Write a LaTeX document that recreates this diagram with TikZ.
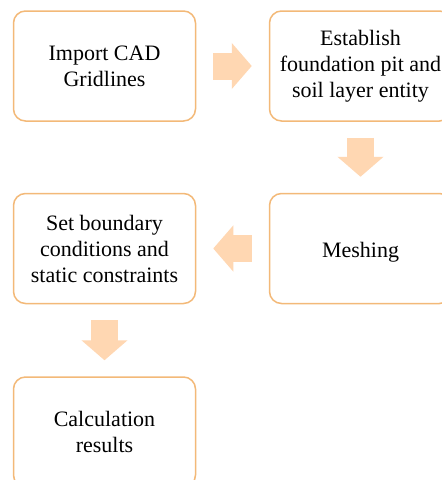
\documentclass[tikz,border=0pt]{standalone}
\usepackage{fontspec}
\setmainfont{Liberation Serif}
\usetikzlibrary{arrows.meta}
\definecolor{boxline}{RGB}{243,185,120}
\definecolor{arrowfill}{RGB}{255,215,178}
\tikzset{
  stepbox/.style={draw=boxline, line width=1.5pt, rounded corners=12pt,
    minimum width=182pt, minimum height=110pt, align=center,
    font=\fontsize{22}{26}\selectfont, inner sep=0pt, fill=white},
  blockarrow/.style={draw=arrowfill, line width=27pt,
    -{Triangle[length=20pt,width=45pt]}}
}
\begin{document}
\begin{tikzpicture}[x=1pt,y=-1pt]
\useasboundingbox (0,0) rectangle (442,480);
\clip (0,0) rectangle (442,480);
\fill[white] (0,0) rectangle (442,480);
\node[stepbox] (b1) at (104.5,66) {Import CAD\\Gridlines};
\node[stepbox] (b2) at (360.5,66) {Establish\\foundation pit and\\soil layer entity};
\node[stepbox] (b3) at (360.5,248.5) {\raisebox{-4pt}[\height][\depth]{Meshing}};
\node[stepbox] (b4) at (104.5,248.5) {Set boundary\\conditions and\\static constraints};
\node[stepbox] (b5) at (104.5,432) {Calculation\\results};
\draw[blockarrow] ([xshift=17pt]b1.east) -- ([xshift=-17pt]b2.west);
\draw[blockarrow] ([yshift=-16pt]b2.south) -- ([yshift=16pt]b3.north);
\draw[blockarrow] ([xshift=-17pt]b3.west) -- ([xshift=17pt]b4.east);
\draw[blockarrow] ([yshift=-16pt]b4.south) -- ([yshift=16pt]b5.north);
\end{tikzpicture}
\end{document}
